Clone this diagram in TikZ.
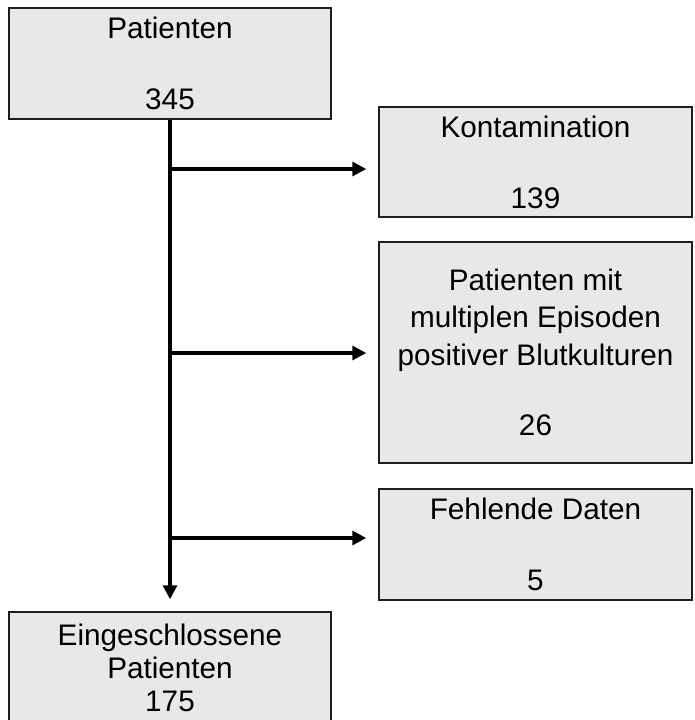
\documentclass[tikz,border=0pt]{standalone}
\usepackage{fontspec}
\setmainfont{Liberation Sans}
\usetikzlibrary{arrows.meta}
\definecolor{boxfill}{RGB}{232,232,232}
\definecolor{boxline}{RGB}{30,30,30}
\tikzset{
  flowbox/.style={draw=boxline, fill=boxfill, line width=1.5pt, rectangle, inner sep=0pt,
    align=center, font=\fontsize{29.7}{35.5}\selectfont},
  leftbox/.style={flowbox, minimum width=322pt, minimum height=111pt},
  rightbox/.style={flowbox, minimum width=313pt},
  flowarrow/.style={line width=3.2pt, -{Triangle[length=14pt,width=14pt]}, shorten >=12pt}
}
\begin{document}
\begin{tikzpicture}[x=1pt,y=-1pt]
\useasboundingbox (0,0) rectangle (694,720);
\node[leftbox] (p) at (170,63.5) {Patienten\\[35.5pt]345};
\node[rightbox, minimum height=110pt] (k) at (535.5,162) {Kontamination\\[35.5pt]139};
\node[rightbox, minimum height=221pt, font=\fontsize{29.7}{37.5}\selectfont] (m) at (535.5,352.5) {Patienten mit\\multiplen Episoden\\positiver Blutkulturen\\[33pt]26};
\node[rightbox, minimum height=111pt] (f) at (535.5,544.5) {Fehlende Daten\\[35.5pt]5};
\node[leftbox, font=\fontsize{29.7}{33}\selectfont] (e) at (170,667.5) {Eingeschlossene\\Patienten\\175};
\coordinate (a1) at (170,169);
\coordinate (a2) at (170,353);
\coordinate (a3) at (170,538);
\draw[flowarrow] (p.south) -- (e.north);
\draw[flowarrow] (a1) -- (a1 -| k.west);
\draw[flowarrow] (a2) -- (a2 -| m.west);
\draw[flowarrow] (a3) -- (a3 -| f.west);
\end{tikzpicture}
\end{document}
